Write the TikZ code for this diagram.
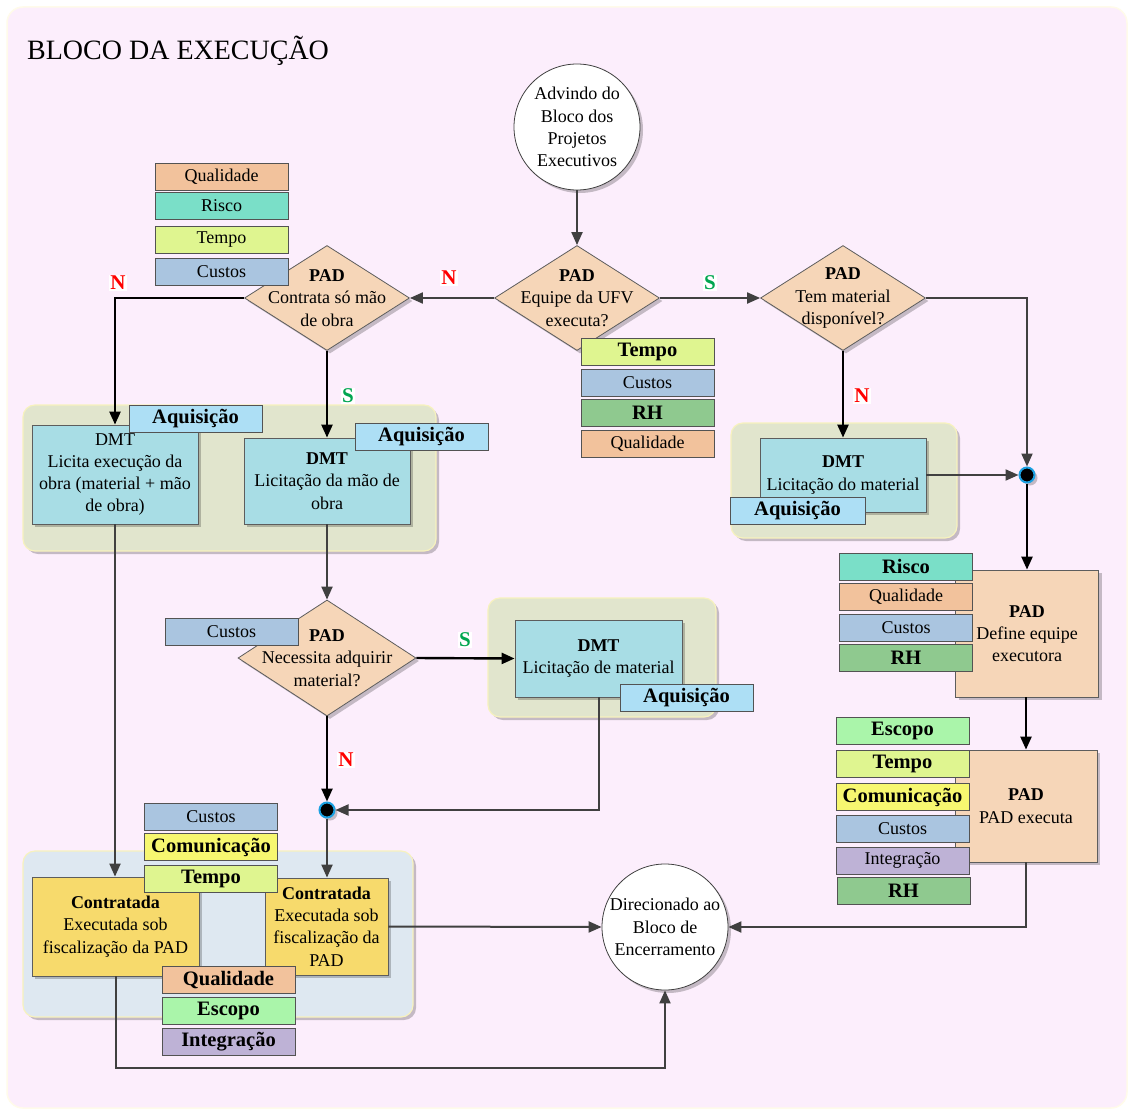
\documentclass[tikz,border=0pt]{standalone}
\usepackage{fontspec}
\setmainfont{Liberation Serif}
\usetikzlibrary{shapes.geometric,arrows.meta,shadows}

\definecolor{bgpink}{HTML}{FCEEFC}
\definecolor{bgedge}{HTML}{FFFBEA}
\definecolor{cQual}{HTML}{F2C29C}
\definecolor{cRisco}{HTML}{7ADFC8}
\definecolor{cTempo}{HTML}{DFF590}
\definecolor{cCustos}{HTML}{AAC5E0}
\definecolor{cRH}{HTML}{8FC98F}
\definecolor{cEscopo}{HTML}{AAF5AA}
\definecolor{cComun}{HTML}{F7F770}
\definecolor{cInteg}{HTML}{BEB2D6}
\definecolor{cAquis}{HTML}{ADDFF5}
\definecolor{cDMT}{HTML}{A8DDE5}
\definecolor{cPAD}{HTML}{F6D6B8}
\definecolor{cContr}{HTML}{F7DA6C}
\definecolor{cGrpG}{HTML}{E1E5CD}
\definecolor{cGrpB}{HTML}{DEE8F1}
\definecolor{cGrpEdge}{HTML}{F7F2BE}
\definecolor{cLine}{HTML}{404040}
\definecolor{cJunc}{HTML}{1BA1E2}
\definecolor{cYes}{HTML}{00A550}
\definecolor{cNo}{HTML}{FF0000}

\begin{document}
\begin{tikzpicture}[x=1pt,y=-1pt,
  sh/.style={drop shadow={shadow xshift=3pt,shadow yshift=-3pt,fill=black,opacity=0.22}},
  base/.style={font=\fontsize{18}{22.3}\selectfont, align=center, inner sep=0pt},
  grp/.style={draw=cGrpEdge, line width=1.2pt, rounded corners=12pt, sh},
  box/.style={base, draw=cLine!85, line width=0.8pt, sh},
  tag/.style={base, draw=cLine!90, line width=0.8pt, minimum width=133pt, minimum height=27pt},
  btag/.style={tag, font=\fontsize{20.5}{22}\selectfont\bfseries},
  dia/.style={diamond, draw=cLine!85, line width=0.8pt, fill=cPAD, minimum width=165pt, minimum height=105pt, inner sep=0pt, sh},
  circ/.style={circle, draw=cLine, line width=0.8pt, fill=white, minimum size=126pt, inner sep=0pt, sh},
  txt/.style={base},
  junc/.style={circle, fill=black, draw=cJunc, line width=2pt, minimum size=15pt, inner sep=0pt, sh},
  gline/.style={draw=cLine, line width=2pt, -{Triangle[length=13pt,width=11pt]}},
  kline/.style={draw=black, line width=2.4pt, -{Triangle[length=13pt,width=11pt]}},
  yes/.style={font=\fontsize{21}{21}\selectfont\bfseries, text=cYes, fill=white, inner sep=1pt},
  no/.style={font=\fontsize{21}{21}\selectfont\bfseries, text=cNo, fill=white, inner sep=1pt}
]
\useasboundingbox (0,0) rectangle (1132,1113);
\fill[white] (0,0) rectangle (1132,1113);
\draw[fill=bgpink, draw=bgedge, line width=1.5pt, rounded corners=16pt] (7,7) rectangle (1127,1108);

\node[anchor=west, font=\fontsize{28}{28}\selectfont, inner sep=0pt] (title) at (27,51) {BLOCO DA EXECUÇÃO};

% background panels
\path[grp, fill=cGrpG] (23,405) rectangle (436,551);
\path[grp, fill=cGrpG] (731,423) rectangle (957,538);
\path[grp, fill=cGrpG] (488,598) rectangle (716,717);
\path[grp, fill=cGrpB] (23,851) rectangle (413,1017);

% start and end circles
\node[circ] (start) at (577,127) {};
\node[txt] (startt) at (start.center) {Advindo do\\Bloco dos\\Projetos\\Executivos};
\node[circ] (endc) at (665,927) {};
\node[txt] (endct) at (endc.center) {Direcionado ao\\Bloco de\\Encerramento};

% decisions
\node[dia] (d1) at (577,298) {};
\node[txt] (d1t) at (d1.center) {\textbf{PAD}\\Equipe da UFV\\executa?};
\node[dia] (d2) at (327,298) {};
\node[txt] (d2t) at (d2.center) {\textbf{PAD}\\Contrata só mão\\de obra};
\node[dia] (d3) at (843,298) {};
\node[txt] (d3t) at (d3.center) {\textbf{PAD}\\Tem material\\disponível?};
\node[dia, minimum width=178pt, minimum height=116pt] (d4) at (327,658) {};
\node[txt] (d4t) at (d4.center) {\textbf{PAD}\\Necessita adquirir\\material?};

% process boxes
\node[box, fill=cDMT, minimum width=166pt, minimum height=99pt] (dmt1) at (115,474.5)
  {DMT\\Licita execução da\\obra (material + mão\\de obra)};
\node[box, fill=cDMT, minimum width=166pt, minimum height=86pt] (dmt2) at (327,481)
  {\textbf{DMT}\\Licitação da mão de\\obra};
\node[box, fill=cDMT, minimum width=166pt, minimum height=74pt] (dmtr) at (843,475)
  {\textbf{DMT}\\Licitação do material};
\node[box, fill=cDMT, minimum width=167pt, minimum height=77pt] (dmt3) at (598.5,658.5)
  {\textbf{DMT}\\Licitação de material};
\node[box, fill=cPAD, minimum width=143pt, minimum height=127pt] (pdef) at (1027,633.5)
  {\textbf{PAD}\\Define equipe\\executora};
\node[box, fill=cPAD, minimum width=142pt, minimum height=112pt] (pexe) at (1026,806)
  {\textbf{PAD}\\PAD executa};
\node[box, fill=cContr, minimum width=167pt, minimum height=99pt] (cl) at (115.5,926.5)
  {\textbf{Contratada}\\Executada sob\\fiscalização da PAD};
\node[box, fill=cContr, minimum width=123pt, minimum height=97pt] (cr) at (326.5,926.5)
  {\textbf{Contratada}\\Executada sob\\fiscalização da\\PAD};

% junctions
\node[junc] (j1) at (1027,475) {};
\node[junc] (j2) at (327,810) {};

% knowledge-area tags
\node[tag, fill=cQual]   (ta1) at (221.5,176.5) {Qualidade};
\node[tag, fill=cRisco]  (ta2) at (221.5,205.5) {Risco};
\node[tag, fill=cTempo]  (ta3) at (221.5,240)   {Tempo};
\node[tag, fill=cCustos] (ta4) at (221.5,271.5) {Custos};

\node[btag, fill=cTempo] (tb1) at (647.5,352)   {Tempo};
\node[tag, fill=cCustos] (tb2) at (647.5,382.5) {Custos};
\node[btag, fill=cRH]    (tb3) at (647.5,413)   {RH};
\node[tag, fill=cQual]   (tb4) at (647.5,443.5) {Qualidade};

\node[btag, fill=cAquis] (aq1) at (195.5,418.5) {Aquisição};
\node[btag, fill=cAquis] (aq2) at (421.5,437)   {Aquisição};
\node[btag, fill=cAquis, minimum width=135pt] (aqr) at (797.5,511) {Aquisição};
\node[btag, fill=cAquis] (aq3) at (686.5,698)   {Aquisição};

\node[tag, fill=cCustos] (tc1) at (231.5,631.5) {Custos};

\node[btag, fill=cRisco] (td1) at (906,566.5) {Risco};
\node[tag, fill=cQual]   (td2) at (906,596.5) {Qualidade};
\node[tag, fill=cCustos] (td3) at (906,627.5) {Custos};
\node[btag, fill=cRH]    (td4) at (906,657.5) {RH};

\node[btag, fill=cEscopo] (te1) at (902.5,730.5) {Escopo};
\node[btag, fill=cTempo]  (te2) at (902.5,763.5) {Tempo};
\node[btag, fill=cComun]  (te3) at (902.5,797)   {Comunicação};
\node[tag, fill=cCustos]  (te4) at (902.5,829)   {Custos};
\node[tag, fill=cInteg]   (te5) at (902.5,860.5) {Integração};
\node[btag, fill=cRH]     (te6) at (903.5,890.5) {RH};

\node[tag, fill=cCustos]  (tf1) at (211,817)    {Custos};
\node[btag, fill=cComun]  (tf2) at (211,847)    {Comunicação};
\node[btag, fill=cTempo]  (tf3) at (211,878.5)  {Tempo};
\node[btag, fill=cQual]   (tf4) at (228.5,980)  {Qualidade};
\node[btag, fill=cEscopo] (tf5) at (228.5,1011) {Escopo};
\node[btag, fill=cInteg]  (tf6) at (228.5,1042) {Integração};

% connectors
\coordinate (lowleft) at (665,1068);
\draw[gline] (start.south) -- (d1.north);
\draw[gline] (d1.west) -- (d2.east);
\draw[gline] (d1.east) -- (d3.west);
\draw[kline] (d2.west) -| (dmt1.north);
\draw[kline] (d2.south) -- (dmt2.north);
\draw[gline] (d3.east) -| (j1.north);
\draw[kline] (d3.south) -- (dmtr.north);
\draw[gline] (dmtr.east) -- (j1.west);
\draw[kline] (j1.south) -- (j1.south |- pdef.north);
\draw[kline] (pdef.south -| pexe.north) -- (pexe.north);
\draw[gline] (pexe.south) |- (endc.east);
\draw[gline] (dmt2.south) -- (d4.north);
\draw[kline] (d4.east) -- (dmt3.west);
\draw[kline] (d4.south) -- (j2.north);
\draw[gline] (dmt3.south) |- (j2.east);
\draw[gline] (j2.south) -- (j2.south |- cr.north);
\draw[gline] (dmt1.south) -- (dmt1.south |- cl.north);
\draw[gline] (cl.south) |- (lowleft) -- (endc.south);
\draw[gline] (cr.east) -- (endc.west);

% branch labels
\node[no]  (n1) at (118,283) {N};
\node[no]  (n2) at (449,278) {N};
\node[yes] (s1) at (710,283) {S};
\node[yes] (s2) at (348,396) {S};
\node[no]  (n3) at (862,396) {N};
\node[yes] (s3) at (465,640) {S};
\node[no]  (n4) at (346,760) {N};
\end{tikzpicture}
\end{document}
